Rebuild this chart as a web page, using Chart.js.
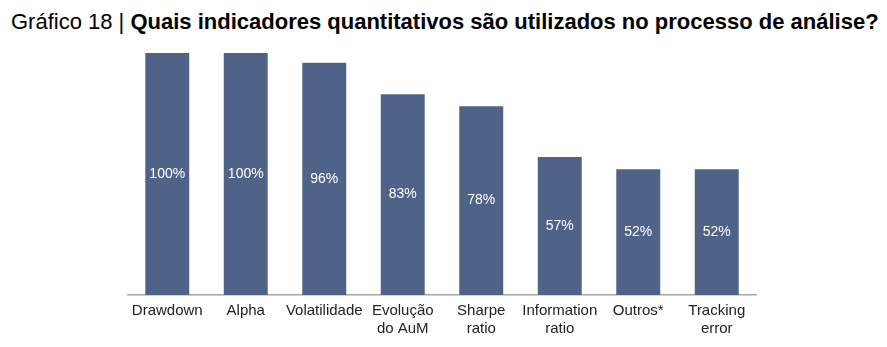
<!DOCTYPE html>
<html>
<head>
<meta charset="utf-8">
<script src="https://cdn.jsdelivr.net/npm/chart.js@4/dist/chart.umd.min.js"></script>
<style>
  body { margin: 0; background: #fff; }
  #wrap { position: relative; width: 887px; height: 347px; }
  #title {
    position: absolute; left: 11px; top: 9px;
    font-family: 'Liberation Sans', Arial, sans-serif;
    font-size: 22px; color: #000; white-space: nowrap;
  }
  #title b { font-weight: bold; }
  canvas { position: absolute; left: 0; top: 0; }
</style>
</head>
<body>
<div id="wrap">
  <div id="title">Gráfico 18 | <b>Quais indicadores quantitativos são utilizados no processo de análise?</b></div>
  <canvas id="chart" width="887" height="347"></canvas>
</div>
<script>
const categories = [
  'Drawdown',
  'Alpha',
  'Volatilidade',
  ['Evolução', 'do AuM'],
  ['Sharpe', 'ratio'],
  ['Information', 'ratio'],
  'Outros*',
  ['Tracking', 'error']
]
const values = [100, 100, 96, 83, 78, 57, 52, 52]

const barColor = '#4F6389'

// labels inside the bars, centred
const barLabels = {
  id: 'barLabels',
  afterDatasetsDraw(chart) {
    const { ctx } = chart
    const meta = chart.getDatasetMeta(0)
    ctx.save()
    ctx.font = '14px "Liberation Sans", Arial, sans-serif'
    ctx.fillStyle = '#ffffff'
    ctx.textAlign = 'center'
    ctx.textBaseline = 'middle'
    meta.data.forEach((bar, i) => {
      const y = (bar.y + bar.base) / 2
      ctx.fillText(values[i] + '%', bar.x, y)
    })
    ctx.restore()
  }
}

const ctx = document.getElementById('chart')

const chart = new Chart(ctx, {
  type: 'bar',
  data: {
    labels: categories,
    datasets: [{
      data: values,
      backgroundColor: barColor,
      barPercentage: 0.56,
      categoryPercentage: 1
    }]
  },
  options: {
    responsive: false,
    animation: false,
    layout: {
      padding: { left: 128, right: 131, top: 53, bottom: 2 }
    },
    plugins: {
      legend: { display: false },
      tooltip: { enabled: false }
    },
    scales: {
      y: {
        display: false,
        min: 0,
        max: 100
      },
      x: {
        grid: { display: false, drawTicks: false },
        border: { display: true, color: '#A6A6A6', width: 1.5 },
        ticks: {
          color: '#222',
          padding: 7,
          maxRotation: 0,
          autoSkip: false,
          font: { family: '"Liberation Sans", Arial, sans-serif', size: 15, lineHeight: 1.2 }
        }
      }
    }
  },
  plugins: [barLabels]
});
</script>
</body>
</html>
